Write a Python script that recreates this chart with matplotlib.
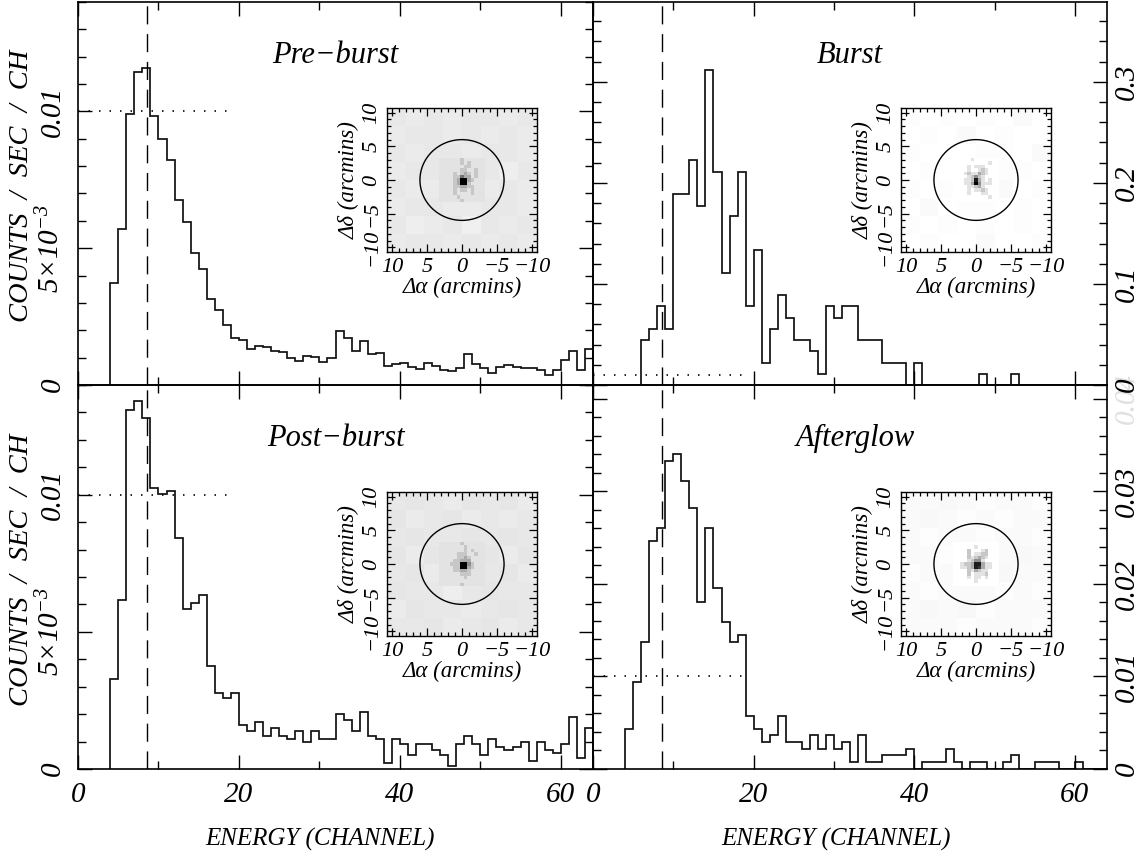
import matplotlib
matplotlib.use("Agg")
import matplotlib.pyplot as plt
from matplotlib.patches import Circle
from matplotlib.ticker import MultipleLocator
import numpy as np

plt.rcParams["font.family"] = ["Liberation Serif", "DejaVu Serif"]
plt.rcParams["font.style"] = "italic"
plt.rcParams["mathtext.fontset"] = "custom"
plt.rcParams["mathtext.rm"] = "Liberation Serif"
plt.rcParams["mathtext.it"] = "Liberation Serif:italic"

W, H = 1143, 859

# channel edges, all spectra start at channel 4
edges = np.arange(4, 65)

pre_burst = [3.73, 5.69, 9.90, 11.45, 11.57, 9.82, 8.99, 8.22, 6.77, 5.94, 4.84, 4.24, 3.13, 2.75, 2.18, 1.73,
             1.66, 1.33, 1.41, 1.38, 1.25, 1.22, 0.99, 0.87, 1.06, 1.01, 0.83, 0.99, 1.97, 1.71, 1.23, 1.60,
             1.13, 1.16, 0.71, 0.76, 0.82, 0.66, 0.58, 0.80, 0.71, 0.55, 0.51, 0.61, 1.14, 0.76, 0.61, 0.43,
             0.66, 0.74, 0.66, 0.62, 0.61, 0.56, 0.37, 0.55, 0.91, 1.23, 0.55, 1.32]
post_burst = [3.27, 6.15, 13.1, 13.4, 12.8, 10.23, 10.02, 10.12, 8.43, 5.84, 6.06, 6.35, 3.77, 2.77, 2.59, 2.77,
              1.60, 1.40, 1.70, 1.19, 1.51, 1.19, 1.09, 1.40, 0.98, 1.40, 1.09, 1.09, 1.99, 1.80, 1.39, 2.09,
              1.20, 1.09, 0.21, 1.09, 0.90, 0.51, 0.90, 0.90, 0.69, 0.50, 0.10, 0.90, 1.19, 0.90, 0.50, 1.09,
              0.79, 0.69, 0.79, 1.00, 0.29, 1.00, 0.69, 0.60, 0.90, 1.90, 0.40, 1.49]
burst = [0, 0, .0442, .0554, .0779, .0554, .189, .189, .2224, .1776, .3116, .2112, .1109, .167, .2112, .0779,
         .1333, .0218, .0558, .0891, .0667, .0446, .0446, .0333, .0109, .0779, .0667, .0779, .0779, .0446,
         .0446, .0446, .0221, .0221, .0221, 0, .0221, 0, 0, 0, 0, 0, 0, 0, .0109, 0, 0, 0, .0109,
         0, 0, 0, 0, 0, 0, 0, 0, 0, 0, 0]
afterglow = [.00436, .00944, .01377, .02465, .02605, .0333, .0340, .0311, .0282, .0181, .02605, .01957, .01593,
             .01377, .01452, .00577, .00436, .00288, .00364, .00577, .00292, .00292, .00216, .00364, .00216,
             .00364, .00216, .00292, .00072, .00364, .00072, .00072, .00148, .00148, .00148, .0022, 0, .00072,
             .00072, .00072, .00216, .00072, 0, .00072, .00072, 0, 0, .00072, .00148, 0, 0, .00072, .00072,
             .00072, 0, 0, .00072, 0, 0, 0]

# darkness of the inset images in percent (coarse background)
bg_pre = [[9, 8, 9, 8, 9, 9, 8, 9], [8, 9, 9, 8, 9, 8, 9, 8], [9, 8, 9, 9, 8, 9, 9, 8],
          [8, 9, 9, 8, 9, 9, 7, 9], [9, 8, 8, 9, 9, 8, 9, 8], [8, 9, 9, 8, 8, 9, 9, 8],
          [9, 7, 8, 9, 6, 9, 8, 9], [8, 9, 9, 8, 9, 8, 9, 8]]
bg_burst = [[1, 0, 1, 0, 1, 0, 2, 0], [0, 1, 0, 2, 0, 1, 0, 0], [1, 0, 0, 0, 1, 1, 0, 2],
            [0, 1, 0, 1, 2, 1, 1, 0], [1, 0, 1, 2, 1, 2, 0, 1], [0, 2, 0, 1, 1, 0, 1, 0],
            [1, 0, 1, 0, 1, 0, 1, 0], [0, 1, 0, 0, 2, 0, 0, 1]]
bg_post = [[9, 10, 9, 8, 10, 9, 10, 8], [10, 8, 9, 10, 8, 9, 8, 9], [9, 10, 9, 9, 10, 9, 10, 9],
           [10, 8, 10, 9, 9, 10, 8, 10], [9, 10, 8, 10, 9, 9, 10, 8], [10, 9, 9, 7, 9, 10, 9, 9],
           [8, 10, 9, 9, 8, 9, 10, 9], [9, 9, 10, 8, 9, 10, 8, 9]]
bg_after = [[2, 2, 3, 2, 1, 2, 2, 1], [2, 3, 2, 1, 2, 1, 2, 2], [2, 1, 2, 2, 1, 2, 2, 1],
            [2, 2, 1, 2, 3, 2, 3, 2], [1, 2, 2, 2, 3, 3, 2, 2], [2, 1, 2, 2, 2, 1, 2, 1],
            [2, 3, 2, 3, 1, 2, 2, 2], [2, 2, 2, 1, 2, 2, 2, 1]]

# central cells of the inset images, darkness 0 (white) to 9 (black)
core_pre = ["1111112111111", "1111112121111", "1111111221111", "1111112211211", "1111212321211",
            "1111225331211", "1111239932111", "1111239921111", "1111223322111", "1111212212111",
            "1111211112111", "1111121111111", "1111112111111"]
core_burst = ["0000010000000", "0000000000100", "0000101110000", "0000100121000", "0001211321000",
              "0000124210000", "0001128310100", "0001139411100", "0000112310000", "0000101121000",
              "0000100011000", "0000000000100", "0000000000000"]
core_post = ["1111112111111", "1111111211111", "1111111212111", "1111122211211", "1111122321111",
             "1111223331111", "1112229942111", "1111229932111", "1111223321111", "1111112221111",
             "1111111211111", "1111111111111", "1111112111111"]
core_after = ["0000000000000", "0000001000000", "0000200012000", "0000201122000", "0000212321000",
              "0000124410000", "0012238831100", "0011238731100", "0000213211000", "0000201112000",
              "0000101101000", "0000001000000", "0000000000000"]

panels = [
    ("Pre\u2212burst", pre_burst, 1e-3, 0.014, (78, 2, 593, 385), 0.01, 1e-3, 5e-3, bg_pre, core_pre),
    ("Burst", burst, 1.0, 0.379, (593, 2, 1107, 385), 0.01, 0.02, 0.1, bg_burst, core_burst),
    ("Post\u2212burst", post_burst, 1e-3, 0.014, (78, 385, 593, 769), 0.01, 1e-3, 5e-3, bg_post, core_post),
    ("Afterglow", afterglow, 1.0, 0.0415, (593, 385, 1107, 769), 0.01, 0.002, 0.01, bg_after, core_after),
]
inset_boxes = [(387, 108, 537, 252), (901, 108, 1051, 252), (387, 492, 537, 636), (901, 492, 1051, 636)]
left_ticks = ([0, 5e-3, 0.01], ["0", r"$\mathit{5}{\times}\mathit{10}^{\mathit{-3}}$", "0.01"])
right_ticks = [([0, 0.1, 0.2, 0.3], ["0", "0.1", "0.2", "0.3"]),
               ([0, 0.01, 0.02, 0.03, 0.04], ["0", "0.01", "0.02", "0.03", "0.04"])]


def px_axes(fig, box, **kw):
    x0, y0, x1, y1 = box
    return fig.add_axes([x0 / W, 1 - y1 / H, (x1 - x0) / W, (y1 - y0) / H], **kw)


fig = plt.figure(figsize=(W / 100, H / 100), dpi=100)

for i, (name, vals, scale, ymax, box, level, minor, major, bg, core) in enumerate(panels):
    ax = px_axes(fig, box, zorder=4 - i)
    ax.patch.set_alpha(0)
    ax.stairs(np.array(vals) * scale, edges, baseline=0, color="#111111", lw=1.25, fill=False)
    ax.axvline(8.6, color="black", lw=1.0, dashes=(13, 7))
    ax.plot([0, 19.4], [level, level], color="black", lw=1.2, dashes=(0.9, 5.4))
    ax.set_xlim(0, 64)
    ax.set_ylim(0, ymax)
    ax.xaxis.set_major_locator(MultipleLocator(20))
    ax.xaxis.set_minor_locator(MultipleLocator(10))
    ax.yaxis.set_major_locator(MultipleLocator(major))
    ax.yaxis.set_minor_locator(MultipleLocator(minor))
    ax.tick_params(which="major", direction="in", top=True, right=True, length=10, width=1.0)
    ax.tick_params(which="minor", direction="in", top=True, right=True, length=6, width=1.0)
    for s in ax.spines.values():
        s.set_linewidth(1.2)

    if i >= 2:
        ax.set_xticks([0, 20, 40, 60])
        ax.set_xticklabels(["0", "20", "40", "60"], fontsize=21)
        ax.tick_params(axis="x", pad=9)
    else:
        ax.tick_params(axis="x", labelbottom=False)

    if i % 2 == 0:
        ax.set_yticks(left_ticks[0])
        ax.set_yticklabels(left_ticks[1], rotation=90, va="center", fontsize=21)
        ax.tick_params(axis="y", which="major", pad=9)
    else:
        tk, lb = right_ticks[i // 2]
        ax.yaxis.tick_right()
        ax.tick_params(axis="y", which="both", left=True, right=True)
        ax.set_yticks(tk)
        ax.set_yticklabels(lb, rotation=90, va="center", fontsize=21)
        ax.tick_params(axis="y", which="major", pad=5)
        if i == 3:
            ax.get_yticklabels()[-1].set_color("#e0e0e0")
    ax.yaxis.set_minor_locator(MultipleLocator(minor))

    ax.text(0.5 if i != 3 else 0.51, 0.86, name, transform=ax.transAxes, ha="center", va="center", fontsize=22)

    # inset source image
    ins = px_axes(fig, inset_boxes[i], zorder=10)
    lim = 10.7
    ins.imshow(1 - np.array(bg) / 100, cmap="gray", vmin=0, vmax=1, extent=(lim, -lim, -lim, lim),
               aspect="auto", interpolation="nearest")
    cells = np.array([[int(c) for c in row] for row in core])
    ins.imshow(1 - cells / 9, cmap="gray", vmin=0, vmax=1, extent=(3.25, -3.25, -3.25, 3.25),
               aspect="auto", interpolation="nearest")
    ins.add_patch(Circle((0, 0), 6, fill=False, color="black", lw=1.0))
    ins.set_xlim(lim, -lim)
    ins.set_ylim(-lim, lim)
    ins.set_xticks([10, 5, 0, -5, -10])
    ins.set_xticklabels(["10", "5", "0", "\u22125", "\u221210"], fontsize=16)
    ins.set_yticks([10, 5, 0, -5, -10])
    ins.set_yticklabels(["10", "5", "0", "\u22125", "\u221210"], fontsize=16, rotation=90, va="center")
    ins.xaxis.set_minor_locator(MultipleLocator(1))
    ins.yaxis.set_minor_locator(MultipleLocator(1))
    ins.tick_params(which="major", direction="in", top=True, right=True, length=6, width=0.9, pad=4)
    ins.tick_params(which="minor", direction="in", top=True, right=True, length=3, width=0.9)
    for s in ins.spines.values():
        s.set_linewidth(1.0)
    ins.set_xlabel("\u0394\u03b1 (arcmins)", fontsize=16.5, labelpad=0)
    ins.set_ylabel("\u0394\u03b4 (arcmins)", fontsize=16.5, labelpad=2)

for cx in (320, 836):
    fig.text(cx / W, 1 - 839 / H, "ENERGY (CHANNEL)", ha="center", va="center", fontsize=18)
for cy in (186, 570):
    fig.text(22 / W, 1 - cy / H, "COUNTS  /  SEC  /  CH", ha="center", va="center", rotation=90, fontsize=20.5)

fig.savefig("out.png", dpi=100)
